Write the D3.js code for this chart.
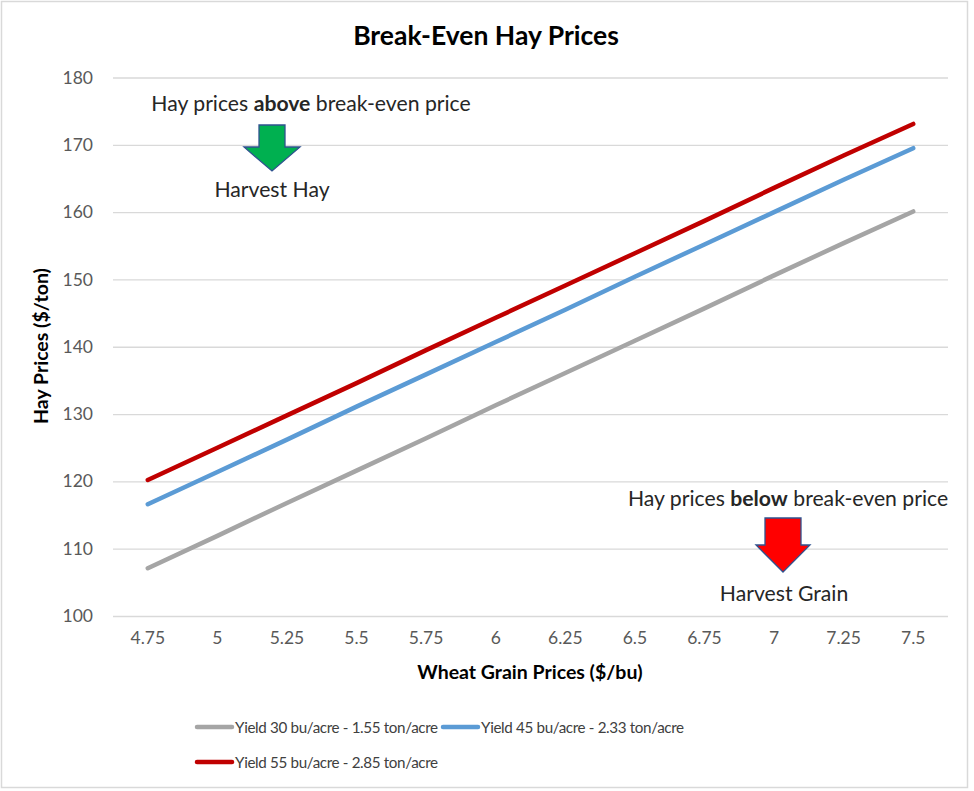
<!DOCTYPE html>
<html>
<head>
<meta charset="utf-8">
<script src="https://cdn.jsdelivr.net/npm/d3@7"></script>
<style>
  html, body { margin: 0; padding: 0; background: #fff; }
  svg { display: block; font-family: Lato, "Noto Sans", sans-serif; }
</style>
</head>
<body>
<svg id="chart" width="974" height="791"></svg>
<script>
const wheatPrices = ["4.75","5","5.25","5.5","5.75","6","6.25","6.5","6.75","7","7.25","7.5"];
const yield30 = [107.1, 111.9, 116.8, 121.6, 126.4, 131.3, 136.1, 140.9, 145.7, 150.6, 155.4, 160.1];
const yield45 = [116.6, 121.4, 126.2, 131.1, 135.9, 140.7, 145.5, 150.4, 155.2, 160.0, 164.8, 169.5];
const yield55 = [120.2, 125.0, 129.8, 134.6, 139.5, 144.3, 149.1, 153.9, 158.7, 163.6, 168.4, 173.1];
const yTicks = [100, 110, 120, 130, 140, 150, 160, 170, 180];
const seriesNames = ["Yield 30 bu/acre - 1.55 ton/acre", "Yield 45 bu/acre - 2.33 ton/acre", "Yield 55 bu/acre - 2.85 ton/acre"];
const seriesColors = ["#A5A5A5", "#5B9BD5", "#C00000"];
const seriesValues = [yield30, yield45, yield55];

const FONT = "Lato, 'Noto Sans', sans-serif";
const svg = d3.select("#chart");

// chart border
svg.append("rect").attr("x", 1.5).attr("y", 1.5).attr("width", 966).attr("height", 786)
  .attr("fill", "#fff").attr("stroke", "#D9D9D9").attr("stroke-width", 1.5);

const plot = { left: 113, right: 948, top: 77.5, bottom: 616 };

const x = d3.scaleBand().domain(wheatPrices).range([plot.left, plot.right]).paddingInner(0).paddingOuter(0);
const xc = d => x(d) + x.bandwidth() / 2;
const y = d3.scaleLinear().domain([100, 180]).range([plot.bottom, plot.top]);

// gridlines + y ticks
const yAxis = d3.axisLeft(y).tickValues(yTicks).tickSize(-(plot.right - plot.left)).tickPadding(20);
const gy = svg.append("g").attr("transform", `translate(${plot.left},0)`).call(yAxis);
gy.attr("font-family", FONT);
gy.select(".domain").remove();
gy.selectAll(".tick line").attr("stroke", "#D9D9D9").attr("stroke-width", 1.3);
gy.selectAll(".tick text").attr("fill", "#595959").attr("font-size", 17.5).attr("x", -20);

const xAxis = d3.axisBottom(x).tickSize(0).tickPadding(16);
const gx = svg.append("g").attr("transform", `translate(0,${plot.bottom})`).call(xAxis);
gx.attr("font-family", FONT);
gx.select(".domain").remove();
gx.selectAll(".tick text").attr("fill", "#595959").attr("font-size", 17.5);

// lines
const line = d3.line().x((d, i) => xc(wheatPrices[i])).y(d => y(d));
seriesValues.forEach((vals, k) => {
  svg.append("path").datum(vals).attr("d", line)
    .attr("fill", "none").attr("stroke", seriesColors[k]).attr("stroke-width", 4.5)
    .attr("stroke-linecap", "round").attr("stroke-linejoin", "round");
});

// title
svg.append("text").attr("x", 486).attr("y", 45).attr("text-anchor", "middle")
  .attr("font-size", 26.5).attr("font-weight", "bold").attr("fill", "#000")
  .text("Break-Even Hay Prices");

// axis titles
svg.append("text").attr("transform", "translate(48,346) rotate(-90)").attr("text-anchor", "middle")
  .attr("font-size", 19.5).attr("font-weight", "bold").attr("fill", "#000")
  .text("Hay Prices ($/ton)");
svg.append("text").attr("x", 530).attr("y", 679).attr("text-anchor", "middle")
  .attr("font-size", 19.5).attr("font-weight", "bold").attr("fill", "#000")
  .text("Wheat Grain Prices ($/bu)");

// annotations
function annot(cx, cy, pre, bold, post) {
  const t = svg.append("text").attr("x", cx).attr("y", cy).attr("text-anchor", "middle")
    .attr("font-size", 21.2).attr("fill", "#262626");
  t.append("tspan").text(pre);
  t.append("tspan").attr("font-weight", "bold").text(bold);
  t.append("tspan").text(post);
}
annot(311, 111, "Hay prices ", "above", " break-even price");
annot(788, 506, "Hay prices ", "below", " break-even price");
svg.append("text").attr("x", 272).attr("y", 197).attr("text-anchor", "middle")
  .attr("font-size", 21.2).attr("fill", "#262626").text("Harvest Hay");
svg.append("text").attr("x", 784).attr("y", 601).attr("text-anchor", "middle")
  .attr("font-size", 21.2).attr("fill", "#262626").text("Harvest Grain");

function arrow(cx, top, headY, tip, shaftHalf, headHalf, fill) {
  const pts = [
    [cx - shaftHalf, top], [cx + shaftHalf, top], [cx + shaftHalf, headY],
    [cx + headHalf, headY], [cx, tip], [cx - headHalf, headY], [cx - shaftHalf, headY]
  ];
  svg.append("path").attr("d", d3.line()(pts) + "Z")
    .attr("fill", fill).attr("stroke", "#2F528F").attr("stroke-width", 1.3).attr("stroke-linejoin", "miter");
}
arrow(272, 125, 147, 171, 13, 28, "#00B050");
arrow(783, 518, 545, 572, 18, 27, "#FF0000");

// legend
const legendPos = [[197, 727], [443, 727], [197, 762]];
seriesNames.forEach((name, k) => {
  const [lx, ly] = legendPos[k];
  svg.append("line").attr("x1", lx).attr("x2", lx + 35).attr("y1", ly).attr("y2", ly)
    .attr("stroke", seriesColors[k]).attr("stroke-width", 4.5).attr("stroke-linecap", "round");
  svg.append("text").attr("x", lx + 38).attr("y", ly + 6).attr("font-size", 15.2)
    .attr("letter-spacing", -0.35).attr("fill", "#404040").text(name);
});
</script>
</body>
</html>
